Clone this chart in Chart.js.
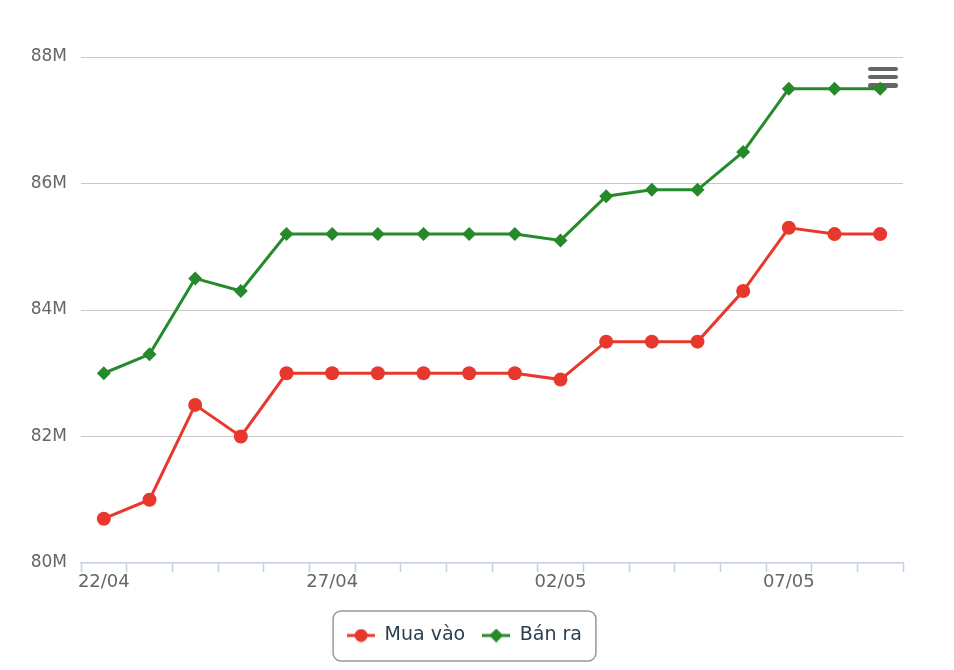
<!DOCTYPE html>
<html>
<head>
<meta charset="utf-8">
<script src="https://cdn.jsdelivr.net/npm/chart.js@4"></script>
<style>
    body { margin: 0; background: #fff; }
    #wrap { position: relative; width: 954px; height: 670px; }
    #wrap canvas { position: relative; z-index: 1; }
    .menu { position: absolute; left: 868px; top: 66.5px; width: 30px; z-index: 0; }
    .menu span { display: block; height: 4.5px; margin-bottom: 3.8px; background: #666; border-radius: 2.5px; }
</style>
</head>
<body>
<div id="wrap">
    <div class="menu"><span></span><span></span><span></span></div>
    <canvas id="goldChart"></canvas>
</div>
<script>
const dates = ["22/04", "23/04", "24/04", "25/04", "26/04", "27/04", "28/04", "29/04", "30/04",
    "01/05", "02/05", "03/05", "04/05", "05/05", "06/05", "07/05", "08/05", "09/05"];
// values in millions
const buyValues = [80.7, 81.0, 82.5, 82.0, 83.0, 83.0, 83.0, 83.0, 83.0,
    83.0, 82.9, 83.5, 83.5, 83.5, 84.3, 85.3, 85.2, 85.2];
const sellValues = [83.0, 83.3, 84.5, 84.3, 85.2, 85.2, 85.2, 85.2, 85.2,
    85.2, 85.1, 85.8, 85.9, 85.9, 86.5, 87.5, 87.5, 87.5];
const seriesNames = ["Mua vào", "Bán ra"];

const RED = "#e8382d";
const GREEN = "#268a2b";
const AXIS = "#c3cede";
const FONT = "'DejaVu Sans', sans-serif";

// small canvas with line + marker, used as legend symbol
function legendSymbol(color, style) {
    const c = document.createElement("canvas");
    c.width = 28;
    c.height = 14;
    const g = c.getContext("2d");
    g.strokeStyle = color;
    g.lineWidth = 3;
    g.beginPath();
    g.moveTo(0, 7);
    g.lineTo(28, 7);
    g.stroke();
    g.fillStyle = color;
    g.beginPath();
    if (style === "circle") {
        g.arc(14, 7, 6.5, 0, Math.PI * 2);
    } else {
        g.moveTo(14, 0);
        g.lineTo(21, 7);
        g.lineTo(14, 14);
        g.lineTo(7, 7);
        g.closePath();
    }
    g.fill();
    return c;
}

const legendBorder = {
    id: "legendBorder",
    afterDraw(chart) {
        const boxes = chart.legend.legendHitBoxes;
        if (!boxes || !boxes.length) return;
        const first = boxes[0];
        const last = boxes[boxes.length - 1];
        const x = first.left - 14;
        const y = first.top - 15;
        const w = last.left + last.width - x + 14;
        const h = first.height + 31;
        const ctx = chart.ctx;
        ctx.save();
        ctx.strokeStyle = "#999";
        ctx.lineWidth = 1.5;
        ctx.beginPath();
        ctx.roundRect(x, y, w, h, 8);
        ctx.stroke();
        ctx.restore();
    }
};

const ctx = document.getElementById("goldChart").getContext("2d");
new Chart(ctx, {
    type: "line",
    data: {
        labels: dates,
        datasets: [
            {
                label: seriesNames[0],
                data: buyValues,
                borderColor: RED,
                backgroundColor: RED,
                borderWidth: 3,
                pointStyle: "circle",
                pointRadius: 7,
                pointBorderWidth: 0,
                pointHoverRadius: 7,
                tension: 0
            },
            {
                label: seriesNames[1],
                data: sellValues,
                borderColor: GREEN,
                backgroundColor: GREEN,
                borderWidth: 3,
                pointStyle: "rectRot",
                pointRadius: 7,
                pointBorderWidth: 0,
                pointHoverRadius: 7,
                tension: 0
            }
        ]
    },
    options: {
        responsive: true,
        maintainAspectRatio: false,
        animation: false,
        layout: {
            padding: { top: 57, right: 51, left: 26, bottom: 15 }
        },
        plugins: {
            tooltip: { enabled: false },
            legend: {
                position: "bottom",
                labels: {
                    usePointStyle: true,
                    pointStyleWidth: 28,
                    padding: 17,
                    color: "#2b3e50",
                    font: { family: FONT, size: 19 },
                    generateLabels: (chart) => chart.data.datasets.map((ds, i) => ({
                        text: ds.label,
                        pointStyle: legendSymbol(ds.borderColor, i === 0 ? "circle" : "diamond"),
                        fontColor: "#2b3e50",
                        strokeStyle: "transparent",
                        fillStyle: "transparent",
                        lineWidth: 0,
                        datasetIndex: i,
                        hidden: false
                    }))
                }
            }
        },
        scales: {
            x: {
                offset: true,
                afterFit: (scale) => { scale.height = 46; },
                grid: {
                    offset: true,
                    drawOnChartArea: false,
                    drawTicks: true,
                    tickLength: 9,
                    tickWidth: 1.5,
                    color: AXIS
                },
                border: { color: AXIS, width: 1.5 },
                ticks: {
                    autoSkip: false,
                    maxRotation: 0,
                    padding: 0,
                    color: "#666",
                    font: { family: FONT, size: 18 },
                    callback: function (value, index) {
                        return index % 5 === 0 ? this.getLabelForValue(value) : "";
                    }
                }
            },
            y: {
                min: 80,
                max: 88,
                afterFit: (scale) => { scale.width = 55; },
                grid: {
                    drawTicks: false,
                    color: (c) => c.tick && c.tick.value === 80 ? "transparent" : "#c8c8c8"
                },
                border: { display: false },
                ticks: {
                    stepSize: 2,
                    padding: 14,
                    color: "#666",
                    font: { family: FONT, size: 17 },
                    callback: (v) => v + "M"
                }
            }
        }
    },
    plugins: [legendBorder]
});
</script>
</body>
</html>
